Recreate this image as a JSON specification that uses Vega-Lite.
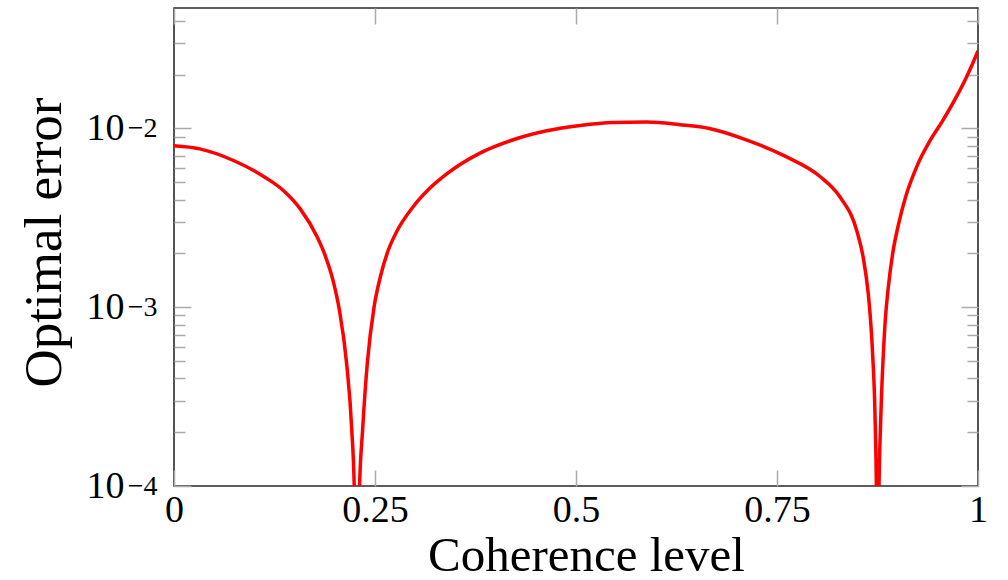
{
  "$schema": "https://vega.github.io/schema/vega-lite/v6.json",
  "width": 804,
  "height": 478,
  "autosize": {"type": "none"},
  "padding": {"left": 174, "top": 8, "right": 30, "bottom": 94},
  "background": "white",
  "config": {
    "view": {"stroke": "#2a2a2a", "strokeWidth": 1.6},
    "font": "Liberation Serif",
    "axis": {
      "domain": false,
      "grid": false,
      "tickColor": "#aaaaaa",
      "tickWidth": 1.5,
      "labelFont": "Liberation Serif",
      "titleFont": "Liberation Serif",
      "labelColor": "#000000",
      "titleColor": "#000000",
      "titleFontWeight": "normal",
      "labelOverlap": false,
      "labelBound": false,
      "labelFlush": false
    }
  },
  "data": {
    "values": [
      {"c": 0.0, "e": 0.0080},
      {"c": 0.032, "e": 0.00769},
      {"c": 0.074, "e": 0.00662},
      {"c": 0.115, "e": 0.00527},
      {"c": 0.136, "e": 0.00450},
      {"c": 0.157, "e": 0.00355},
      {"c": 0.1775, "e": 0.0025},
      {"c": 0.187, "e": 0.0020},
      {"c": 0.198, "e": 0.0014},
      {"c": 0.2056, "e": 0.00097},
      {"c": 0.2148, "e": 0.00048},
      {"c": 0.221, "e": 0.00021},
      {"c": 0.2245, "e": 0.000086},
      {"c": 0.2265, "e": 0.00002},
      {"c": 0.2274, "e": 0.000001},
      {"c": 0.2284, "e": 0.00002},
      {"c": 0.2305, "e": 0.00009},
      {"c": 0.2347, "e": 0.00021},
      {"c": 0.2405, "e": 0.00049},
      {"c": 0.2488, "e": 0.0010},
      {"c": 0.257, "e": 0.0015},
      {"c": 0.2666, "e": 0.00209},
      {"c": 0.277, "e": 0.00265},
      {"c": 0.2977, "e": 0.00366},
      {"c": 0.3184, "e": 0.00464},
      {"c": 0.3392, "e": 0.00557},
      {"c": 0.3806, "e": 0.00728},
      {"c": 0.422, "e": 0.00865},
      {"c": 0.4636, "e": 0.00971},
      {"c": 0.505, "e": 0.0104},
      {"c": 0.5464, "e": 0.0108},
      {"c": 0.588, "e": 0.01086},
      {"c": 0.629, "e": 0.0105},
      {"c": 0.666, "e": 0.0100},
      {"c": 0.71, "e": 0.0087},
      {"c": 0.76, "e": 0.0070},
      {"c": 0.8035, "e": 0.00539},
      {"c": 0.828, "e": 0.00416},
      {"c": 0.849, "e": 0.0027},
      {"c": 0.8574, "e": 0.00188},
      {"c": 0.8636, "e": 0.00118},
      {"c": 0.8665, "e": 0.00083},
      {"c": 0.869, "e": 0.00054},
      {"c": 0.8719, "e": 0.00025},
      {"c": 0.8738, "e": 0.00008},
      {"c": 0.8752, "e": 0.000001},
      {"c": 0.8766, "e": 0.00008},
      {"c": 0.879, "e": 0.000234},
      {"c": 0.8823, "e": 0.000552},
      {"c": 0.8847, "e": 0.00085},
      {"c": 0.8885, "e": 0.0013},
      {"c": 0.8939, "e": 0.0020},
      {"c": 0.9009, "e": 0.00288},
      {"c": 0.9104, "e": 0.0042},
      {"c": 0.9237, "e": 0.0061},
      {"c": 0.9403, "e": 0.00854},
      {"c": 0.9552, "e": 0.0109},
      {"c": 0.9693, "e": 0.0140},
      {"c": 0.9859, "e": 0.0195},
      {"c": 0.9984, "e": 0.0261},
      {"c": 1.0, "e": 0.0272}
    ]
  },
  "layer": [
    {
      "mark": {"type": "line", "color": "#ff0000", "strokeWidth": 3.5, "clip": true, "interpolate": "monotone"},
      "encoding": {
        "x": {
          "field": "c", "type": "quantitative",
          "scale": {"domain": [0, 1], "nice": false, "zero": false},
          "axis": {
            "orient": "bottom",
            "values": [0, 0.25, 0.5, 0.75, 1],
            "format": ".2~f",
            "tickSize": -16,
            "labelFontSize": 38,
            "labelPadding": 21,
            "title": "Coherence level",
            "titleFontSize": 49,
            "titleAlign": "center",
            "titleBaseline": "alphabetic",
            "titleX": 412,
            "titleY": 84
          }
        },
        "y": {
          "field": "e", "type": "quantitative",
          "scale": {"type": "log", "domain": [0.0001, 0.0472], "nice": false},
          "axis": {
            "orient": "left",
            "values": [0.0001, 0.001, 0.01],
            "labelExpr": "datum.value == 0.01 ? '−2' : datum.value == 0.001 ? '−3' : '−4'",
            "ticks": false,
            "labelFontSize": 28,
            "labelPadding": 17,
            "labelDy": -15,
            "title": null
          }
        }
      }
    },
    {
      "mark": {"type": "line", "opacity": 0, "clip": true},
      "encoding": {
        "x": {
          "field": "c", "type": "quantitative",
          "scale": {"domain": [0, 1], "nice": false, "zero": false},
          "axis": {"orient": "top", "values": [0, 0.25, 0.5, 0.75, 1], "tickSize": -16, "labels": false, "title": null}
        },
        "y": {
          "field": "e", "type": "quantitative",
          "scale": {"type": "log", "domain": [0.0001, 0.0472], "nice": false},
          "axis": {
            "orient": "left",
            "values": [0.0001, 0.001, 0.01],
            "labelExpr": "'10'",
            "ticks": false,
            "labelFontSize": 38,
            "labelPadding": 50,
            "labelDy": 3,
            "title": "Optimal error",
            "titleFontSize": 53,
            "titleAngle": -90,
            "titleBaseline": "middle",
            "titleAlign": "center",
            "titleX": -130,
            "titleY": 234
          }
        }
      }
    },
    {
      "mark": {"type": "line", "opacity": 0, "clip": true},
      "encoding": {
        "x": {"field": "c", "type": "quantitative", "scale": {"domain": [0, 1], "nice": false, "zero": false}, "axis": null},
        "y": {
          "field": "e", "type": "quantitative",
          "scale": {"type": "log", "domain": [0.0001, 0.0472], "nice": false},
          "axis": {
            "orient": "left",
            "values": [0.0001, 0.0002, 0.0003, 0.0004, 0.0005, 0.0006, 0.0007, 0.0008, 0.0009, 0.001, 0.002, 0.003, 0.004, 0.005, 0.006, 0.007, 0.008, 0.009, 0.01, 0.02, 0.03, 0.04],
            "tickSize": {"condition": {"test": "datum.value == 0.01 || datum.value == 0.001 || datum.value == 0.0001", "value": -17}, "value": -11},
            "labels": false,
            "title": null
          }
        }
      }
    },
    {
      "mark": {"type": "line", "opacity": 0, "clip": true},
      "encoding": {
        "x": {"field": "c", "type": "quantitative", "scale": {"domain": [0, 1], "nice": false, "zero": false}, "axis": null},
        "y": {
          "field": "e", "type": "quantitative",
          "scale": {"type": "log", "domain": [0.0001, 0.0472], "nice": false},
          "axis": {
            "orient": "right",
            "values": [0.0001, 0.0002, 0.0003, 0.0004, 0.0005, 0.0006, 0.0007, 0.0008, 0.0009, 0.001, 0.002, 0.003, 0.004, 0.005, 0.006, 0.007, 0.008, 0.009, 0.01, 0.02, 0.03, 0.04],
            "tickSize": {"condition": {"test": "datum.value == 0.01 || datum.value == 0.001 || datum.value == 0.0001", "value": -17}, "value": -11},
            "labels": false,
            "title": null
          }
        }
      }
    }
  ],
  "resolve": {"axis": {"x": "independent", "y": "independent"}}
}
